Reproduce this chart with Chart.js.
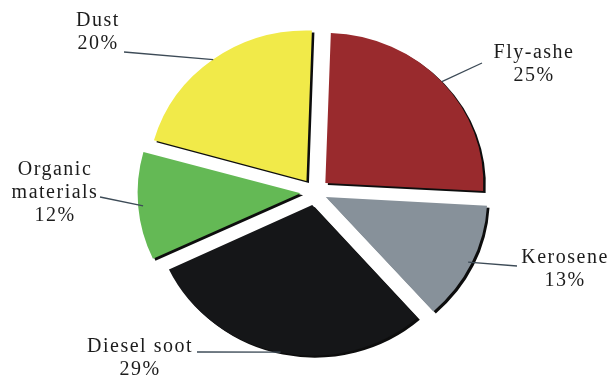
<!DOCTYPE html>
<html>
<head>
<meta charset="utf-8">
<script src="https://cdn.jsdelivr.net/npm/chart.js@4"></script>
<style>
  html, body { margin: 0; padding: 0; background: #fff; }
</style>
</head>
<body>
<canvas id="pie-chart" width="610" height="378"></canvas>
<script>
const categories = ['Fly-ashe', 'Kerosene', 'Diesel soot', 'Organic\nmaterials', 'Dust']
// printed percentages
const percentLabels = ['25%', '13%', '29%', '12%', '20%']
// slice sizes as actually drawn in the picture
const sliceSizes = [25.3, 12.6, 29.5, 11.4, 21.2]
const colors = ['#992a2d', '#87919a', '#151618', '#64b955', '#f1ea49']

// the original pie is slightly squashed vertically
const squashY = 0.95

// where each label sits: end of the leader line and centre of the first text line
const labelLayout = [
  { lineEnd: [482, 63], text: [533, 53] },
  { lineEnd: [517, 266], text: [564, 258] },
  { lineEnd: [197, 352], text: [139, 347] },
  { lineEnd: [100, 197], text: [54, 170] },
  { lineEnd: [124, 52], text: [97, 21] }
]

const sliceShadow = {
  id: 'sliceShadow',
  beforeDatasetsDraw(chart) {
    const ctx = chart.ctx
    const cy = (chart.chartArea.top + chart.chartArea.bottom) / 2
    ctx.save()
    ctx.translate(0, cy)
    ctx.scale(1, squashY)
    ctx.translate(0, -cy)
    ctx.shadowColor = 'rgba(0,0,0,0.95)'
    ctx.shadowOffsetX = 2.5
    ctx.shadowOffsetY = 2
    ctx.shadowBlur = 0.5
  },
  afterDatasetsDraw(chart) {
    chart.ctx.restore()
  }
}

const leaderLabels = {
  id: 'leaderLabels',
  afterDraw(chart) {
    const ctx = chart.ctx
    const arcs = chart.getDatasetMeta(0).data
    ctx.save()
    arcs.forEach((arc, i) => {
      const p = arc.getProps(['x', 'y', 'startAngle', 'endAngle', 'outerRadius'])
      const mid = (p.startAngle + p.endAngle) / 2
      const shift = (arc.options.offset || 0) / 4
      const r = p.outerRadius + shift
      const sx = p.x + Math.cos(mid) * r
      const sy = p.y + Math.sin(mid) * r * squashY
      const lay = labelLayout[i]
      ctx.strokeStyle = '#3d4b57'
      ctx.lineWidth = 1.3
      ctx.beginPath()
      ctx.moveTo(lay.lineEnd[0], lay.lineEnd[1])
      ctx.lineTo(sx, sy)
      ctx.stroke()

      ctx.fillStyle = '#1c1c1c'
      ctx.font = '20px "Liberation Serif", "Times New Roman", serif'
      ctx.letterSpacing = '1.5px'
      ctx.textAlign = 'center'
      ctx.textBaseline = 'middle'
      const lines = categories[i].split('\n').concat(percentLabels[i])
      lines.forEach((t, k) => {
        ctx.fillText(t, lay.text[0] + 1, lay.text[1] + k * 23)
      })
    })
    ctx.restore()
  }
}

new Chart(document.getElementById('pie-chart').getContext('2d'), {
  type: 'pie',
  data: {
    labels: categories,
    datasets: [{
      data: sliceSizes,
      backgroundColor: colors,
      borderWidth: 0,
      offset: [56, 48, 56, 58, 58]
    }]
  },
  options: {
    responsive: false,
    animation: false,
    rotation: 2,
    radius: 158,
    layout: { padding: { left: 20, top: 6 } },
    plugins: {
      legend: { display: false },
      tooltip: { enabled: false }
    }
  },
  plugins: [sliceShadow, leaderLabels]
})
</script>
</body>
</html>
